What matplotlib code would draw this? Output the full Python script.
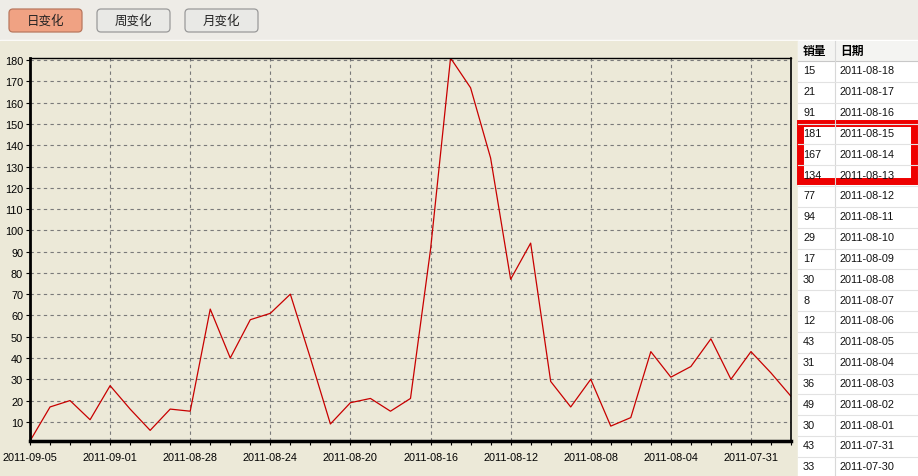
import matplotlib
matplotlib.use('Agg')
import matplotlib.pyplot as plt
import matplotlib.dates as mdates
from matplotlib.patches import Rectangle, FancyBboxPatch
import pandas as pd

plt.rcParams['font.family'] = ['Liberation Sans', 'Noto Sans CJK SC']

# daily sales, 2011-07-29 .. 2011-09-05
dates = pd.date_range('2011-07-29', '2011-09-05', freq='D')
sales = [22, 33, 43, 30, 49, 36, 31, 43, 12, 8,
         30, 17, 29, 94, 77, 134, 167, 181, 91, 21,
         15, 21, 19, 9, 40, 70, 61, 58, 40, 63,
         15, 16, 6, 16, 27, 11, 20, 17, 1]

# right-hand table (as shown, newest first)
table_sales = ['15', '21', '91', '181', '167', '134', '77', '94', '29', '17',
               '30', '8', '12', '43', '31', '36', '49', '30', '43', '33']
table_dates = ['2011-08-18', '2011-08-17', '2011-08-16', '2011-08-15', '2011-08-14',
               '2011-08-13', '2011-08-12', '2011-08-11', '2011-08-10', '2011-08-09',
               '2011-08-08', '2011-08-07', '2011-08-06', '2011-08-05', '2011-08-04',
               '2011-08-03', '2011-08-02', '2011-08-01', '2011-07-31', '2011-07-30']
buttons = ['日变化', '周变化', '月变化']

W, H = 918, 477
fig = plt.figure(figsize=(W / 100, H / 100), dpi=100)

# background / UI layer in pixel coordinates
ui = fig.add_axes([0, 0, 1, 1], zorder=0)
ui.set_xlim(0, W)
ui.set_ylim(H, 0)
ui.axis('off')
ui.add_patch(Rectangle((0, 0), W, 41, color='#EEECE7'))
ui.add_patch(Rectangle((0, 41), W, 1.5, color='white'))
ui.add_patch(Rectangle((0, 42), 798, H - 42, color='#ECE9D8'))
ui.add_patch(Rectangle((798, 42), W - 798, H - 42, color='white'))

# buttons
btn_x = [(9, 82), (97, 170), (185, 258)]
for i, (label, (x0, x1)) in enumerate(zip(buttons, btn_x)):
    face = '#F0A283' if i == 0 else '#E9E9E6'
    edge = '#B9785F' if i == 0 else '#9A9A9A'
    ui.add_patch(FancyBboxPatch((x0, 10), x1 - x0, 23,
                                boxstyle='round,pad=0,rounding_size=4',
                                fc=face, ec=edge, lw=0.9))
    ui.text((x0 + x1) / 2, 21.5, label, ha='center', va='center',
            fontsize=9, family=['Noto Sans CJK SC', 'DejaVu Sans'], color='#222222')

# table
tx0, tsep, row_h, head_top, head_bot = 798, 835, 20.84, 42, 62
ui.add_patch(Rectangle((tx0, head_top), W - tx0, head_bot - head_top,
                       fc='#F4F4F2', ec='none'))
ui.plot([tx0, W], [head_bot, head_bot], color='#C8C8C8', lw=0.8)
ui.plot([tsep, tsep], [head_top, H], color='#D8D8D8', lw=0.8)
ui.text(803, 51, '销量', ha='left', va='center', fontsize=8.5, fontweight='bold',
        family=['Noto Sans CJK SC', 'DejaVu Sans'])
ui.text(840, 51, '日期', ha='left', va='center', fontsize=8.5, fontweight='bold',
        family=['Noto Sans CJK SC', 'DejaVu Sans'])
for k, (s, d) in enumerate(zip(table_sales, table_dates)):
    yc = head_bot + row_h * (k + 0.45)
    ui.text(803, yc, s, ha='left', va='center', fontsize=7.8, color='#111111')
    ui.text(840, yc, d, ha='left', va='center', fontsize=7.8, color='#111111')
    ui.plot([tx0, W], [head_bot + row_h * (k + 1)] * 2, color='#E2E2E2', lw=0.8)

# red highlight box
ui.add_patch(Rectangle((799.5, 123.5), 114, 58, fill=False, ec='#EE0000', lw=5))

# main chart
ax = fig.add_axes([30 / W, 1 - 442 / H, (791 - 30) / W, (442 - 59) / H], zorder=1)
ax.set_facecolor('#ECE9D8')
ax.plot(dates, sales, color='#C80000', lw=0.9)
ax.set_xlim(dates[-1], dates[0])
ax.set_ylim(min(sales), max(sales))

ax.set_yticks(range(10, 181, 10))
major = list(dates[::-1][::4])
ax.xaxis.set_major_locator(matplotlib.ticker.FixedLocator(mdates.date2num(major)))
ax.xaxis.set_minor_locator(mdates.DayLocator())
ax.xaxis.set_major_formatter(mdates.DateFormatter('%Y-%m-%d'))
ax.tick_params(axis='both', labelsize=7.8, colors='black', length=3, width=0.8, pad=2)
ax.tick_params(axis='x', which='minor', length=3, width=0.8)
ax.tick_params(axis='x', pad=5)

ax.grid(True, which='major', color='#7A7A7A', lw=0.8, linestyle=(0, (3, 3)))
ax.set_axisbelow(True)
ax.spines['left'].set_linewidth(2)
ax.spines['bottom'].set_linewidth(2.5)
ax.spines['top'].set_linewidth(1)
ax.spines['right'].set_linewidth(1.2)

plt.savefig('out.png', dpi=100)
